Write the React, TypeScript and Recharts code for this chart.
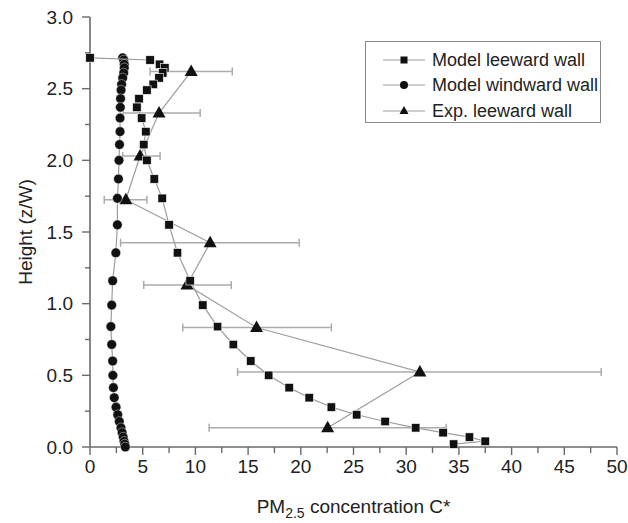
import React from 'react';
import { ScatterChart, Scatter, XAxis, YAxis, ErrorBar, Legend, Label } from 'recharts';

// concentrations, top of the canyon first
const leewardConc = [0, 5.7, 6.6, 7.1, 6.9, 6.55, 6.0, 5.4, 4.65, 4.45, 4.9, 5.3, 5.1, 5.4, 6.1, 6.85, 7.5, 8.3, 9.5, 10.7, 12.1, 13.6, 15.25, 16.95, 18.9, 20.8, 22.9, 25.3, 28.0, 30.9, 33.5, 36.0, 37.5, 34.5];
const leewardHeight = [2.715, 2.7, 2.67, 2.645, 2.61, 2.575, 2.53, 2.49, 2.43, 2.37, 2.295, 2.2, 2.11, 2.0, 1.87, 1.735, 1.55, 1.355, 1.16, 0.99, 0.84, 0.715, 0.6, 0.5, 0.414, 0.344, 0.278, 0.225, 0.178, 0.134, 0.1, 0.069, 0.04, 0.02];

const windwardConc = [3.1, 3.2, 3.25, 3.25, 3.2, 3.1, 3.0, 2.95, 2.9, 2.88, 2.85, 2.85, 2.8, 2.75, 2.7, 2.6, 2.6, 2.45, 2.15, 2.06, 1.98, 2.06, 2.15, 2.17, 2.22, 2.3, 2.47, 2.63, 2.78, 2.94, 3.05, 3.15, 3.23, 3.3, 3.35];
const windwardHeight = [2.715, 2.7, 2.67, 2.645, 2.61, 2.575, 2.53, 2.49, 2.43, 2.37, 2.295, 2.2, 2.11, 2.0, 1.87, 1.735, 1.55, 1.355, 1.16, 0.99, 0.84, 0.715, 0.6, 0.5, 0.414, 0.344, 0.278, 0.225, 0.178, 0.134, 0.1, 0.069, 0.04, 0.02, 0.0];

const expConc = [9.6, 6.55, 4.75, 3.4, 11.4, 9.2, 15.8, 31.3, 22.55];
const expHeight = [2.62, 2.33, 2.03, 1.725, 1.425, 1.13, 0.834, 0.523, 0.134];
const expLow = [5.7, 3.15, 3.1, 1.35, 2.9, 5.1, 8.8, 14.0, 11.3];
const expHigh = [13.5, 10.45, 6.65, 5.4, 19.85, 13.4, 22.9, 48.5, 33.8];

const seriesNames = ['Model leeward wall', 'Model windward wall', 'Exp. leeward wall'];

const xTicks = [0, 2.5, 5, 7.5, 10, 12.5, 15, 17.5, 20, 22.5, 25, 27.5, 30, 32.5, 35, 37.5, 40, 42.5, 45, 47.5, 50];
const yTicks = [0, 0.25, 0.5, 0.75, 1, 1.25, 1.5, 1.75, 2, 2.25, 2.5, 2.75, 3];

const leewardData = leewardConc.map((x, i) => ({ x, y: leewardHeight[i] }));
const windwardData = windwardConc.map((x, i) => ({ x, y: windwardHeight[i] }));
const expData = expConc.map((x, i) => ({ x, y: expHeight[i], err: [x - expLow[i], expHigh[i] - x] }));

const FONT = '"Liberation Sans", Arial, Helvetica, sans-serif';
const TEXT = '#222';
const AXIS = '#6a6a6a';
const LINE = '#9c9c9c';

const TICK_SIZE = 8;
const TICK_MARGIN = 9;

const Square = (props: any) => {
  const { cx, cy } = props;
  const s = 8.5;
  return <rect x={cx - s / 2} y={cy - s / 2} width={s} height={s} fill="#111" stroke="#fff" strokeWidth={0.6} />;
};

const Circle = (props: any) => {
  const { cx, cy } = props;
  return <circle cx={cx} cy={cy} r={4.8} fill="#111" stroke="#fff" strokeWidth={0.4} />;
};

const Triangle = (props: any) => {
  const { cx, cy } = props;
  return <polygon points={`${cx},${cy - 7} ${cx - 6.5},${cy + 4.5} ${cx + 6.5},${cy + 4.5}`} fill="#111" />;
};

const YTick = (props: any) => {
  const { x, y, payload } = props;
  const v = payload.value;
  const major = Math.abs(v * 2 - Math.round(v * 2)) < 1e-6;
  const ax = x + TICK_SIZE + TICK_MARGIN;
  return (
    <g>
      <line x1={ax - (major ? 8 : 5)} x2={ax} y1={y} y2={y} stroke={AXIS} strokeWidth={1.4} />
      {major && (
        <text x={x} y={y} textAnchor="end" dominantBaseline="central" fontSize={19} fill={TEXT} fontFamily={FONT}>
          {v.toFixed(1)}
        </text>
      )}
    </g>
  );
};

const XTick = (props: any) => {
  const { x, y, payload } = props;
  const v = payload.value;
  const major = v % 5 === 0;
  const ay = y - TICK_SIZE - TICK_MARGIN;
  return (
    <g>
      <line x1={x} x2={x} y1={ay} y2={ay + (major ? 8 : 6)} stroke={AXIS} strokeWidth={1.4} />
      {major && (
        <text x={x} y={y - 4} dy="0.71em" textAnchor="middle" fontSize={19} fill={TEXT} fontFamily={FONT}>
          {v}
        </text>
      )}
    </g>
  );
};

const XTitle = (props: any) => {
  const { x, y, width } = props.viewBox;
  return (
    <text x={x + width / 2} y={y + 66} textAnchor="middle" fontSize={19} fill={TEXT} fontFamily={FONT}>
      PM
      <tspan dy={5} fontSize={14}>2.5</tspan>
      <tspan dy={-5}> concentration C*</tspan>
    </text>
  );
};

const YTitle = (props: any) => {
  const { y, height } = props.viewBox;
  const cx = 25;
  const cy = y + height / 2;
  return (
    <text x={cx} y={cy} transform={`rotate(-90, ${cx}, ${cy})`} textAnchor="middle" dominantBaseline="central" fontSize={19} fill={TEXT} fontFamily={FONT}>
      Height (z/W)
    </text>
  );
};

const markers = [
  (cx: number, cy: number) => <rect x={cx - 3.5} y={cy - 3.5} width={7} height={7} fill="#111" />,
  (cx: number, cy: number) => <circle cx={cx} cy={cy} r={4} fill="#111" />,
  (cx: number, cy: number) => <polygon points={`${cx},${cy - 5} ${cx - 4.5},${cy + 3} ${cx + 4.5},${cy + 3}`} fill="#111" />,
];

const LegendBox = () => (
  <div
    style={{
      width: 236,
      height: 82,
      boxSizing: 'border-box',
      border: '1.5px solid #8a8a8a',
      paddingTop: 5,
      paddingLeft: 17,
      background: '#fff',
      fontFamily: FONT,
      fontSize: 18,
      color: TEXT,
    }}
  >
    {seriesNames.map((name, i) => (
      <div key={name} style={{ display: 'flex', alignItems: 'center', height: 25.5 }}>
        <svg width={42} height={12} style={{ display: 'block' }}>
          <line x1={0} x2={42} y1={6} y2={6} stroke={LINE} strokeWidth={1.2} />
          {markers[i](21, 6)}
        </svg>
        <span style={{ marginLeft: 7, whiteSpace: 'nowrap', lineHeight: '20px' }}>{name}</span>
      </div>
    ))}
  </div>
);

export default function App() {
  return (
    <div style={{ position: 'absolute', left: 0, top: 0, background: '#fff' }}>
      <ScatterChart width={628} height={523} margin={{ top: 17, right: 11, bottom: 0, left: 0 }}>
        <XAxis
          type="number"
          dataKey="x"
          domain={[0, 50]}
          ticks={xTicks}
          interval={0}
          height={76}
          tickSize={TICK_SIZE}
          tickMargin={TICK_MARGIN}
          tickLine={false}
          tick={<XTick />}
          axisLine={{ stroke: AXIS, strokeWidth: 1.6 }}
        >
          <Label content={<XTitle />} />
        </XAxis>
        <YAxis
          type="number"
          dataKey="y"
          domain={[0, 3]}
          ticks={yTicks}
          interval={0}
          width={90}
          tickSize={TICK_SIZE}
          tickMargin={TICK_MARGIN}
          tickLine={false}
          tick={<YTick />}
          axisLine={{ stroke: AXIS, strokeWidth: 1.6 }}
        >
          <Label content={<YTitle />} />
        </YAxis>
        <Legend
          layout="vertical"
          align="center"
          verticalAlign="middle"
          content={<LegendBox />}
          wrapperStyle={{ top: 41, left: 365, width: 236, height: 82 }}
        />
        <Scatter
          name={seriesNames[2]}
          data={expData}
          line={{ stroke: LINE, strokeWidth: 1.2 }}
          lineType="joint"
          shape={<Triangle />}
          isAnimationActive={false}
        >
          <ErrorBar dataKey="err" direction="x" width={4} stroke="#ababab" strokeWidth={1.5} />
        </Scatter>
        <Scatter
          name={seriesNames[1]}
          data={windwardData}
          line={{ stroke: LINE, strokeWidth: 1.2 }}
          lineType="joint"
          shape={<Circle />}
          isAnimationActive={false}
        />
        <Scatter
          name={seriesNames[0]}
          data={leewardData}
          line={{ stroke: LINE, strokeWidth: 1.2 }}
          lineType="joint"
          shape={<Square />}
          isAnimationActive={false}
        />
      </ScatterChart>
    </div>
  );
}
